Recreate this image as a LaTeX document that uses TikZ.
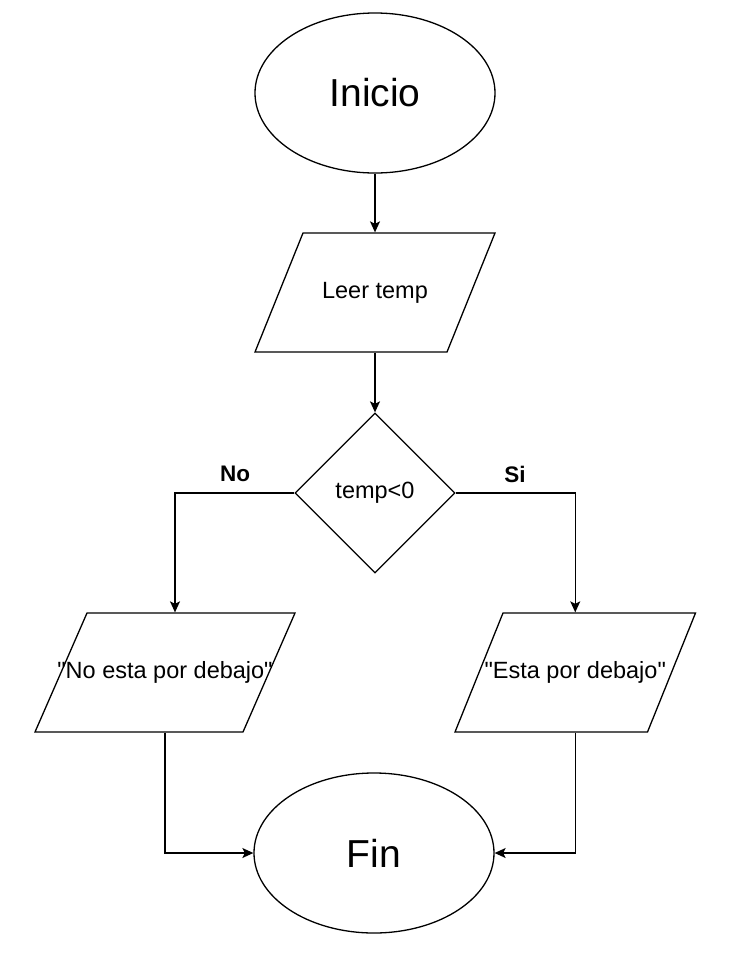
\documentclass[tikz,border=0pt]{standalone}
\usepackage{fontspec}
\setmainfont{Liberation Sans}[Ligatures=TeXOff]
\usetikzlibrary{shapes.geometric,arrows.meta}
\begin{document}
\begin{tikzpicture}[x=1pt,y=-1pt,
  line width=1.3pt,
  term/.style={ellipse,draw,minimum width=240pt,minimum height=160pt,inner sep=0pt,font=\fontsize{39}{45}\selectfont},
  pbox/.style={rectangle,minimum height=119pt,minimum width=10pt,inner sep=0pt,font=\fontsize{23.5}{28}\selectfont},
  dec/.style={diamond,draw,minimum width=160pt,minimum height=160pt,inner sep=0pt,font=\fontsize{23.5}{28}\selectfont},
  lab/.style={font=\bfseries\fontsize{22.5}{26}\selectfont},
  conn/.style={-{Stealth[length=11pt,width=10pt,inset=2.5pt]}}
]
\useasboundingbox (0,0) rectangle (738,954);

\node[term] (inicio) at (375,93) {Inicio};
\node[pbox] (leer) at (375,292.5) {Leer temp};
\node[dec] (cond) at (375,493) {temp<0};
\node[pbox] (nobox) at (165,672.5) {"No esta por debajo"};
\node[pbox] (sibox) at (575.25,672.5) {"Esta por debajo"};
\node[term] (fin) at (374,853) {Fin};

% parallelogram outlines (half width w, half slant s, half height 59.5)
\draw ([shift={(-72,-59.5)}]leer.center) -- ([shift={(120,-59.5)}]leer.center) -- ([shift={(72,59.5)}]leer.center) -- ([shift={(-120,59.5)}]leer.center) -- cycle;
\draw ([shift={(-78,-59.5)}]nobox.center) -- ([shift={(130,-59.5)}]nobox.center) -- ([shift={(78,59.5)}]nobox.center) -- ([shift={(-130,59.5)}]nobox.center) -- cycle;
\draw ([shift={(-72.25,-59.5)}]sibox.center) -- ([shift={(120.25,-59.5)}]sibox.center) -- ([shift={(72.25,59.5)}]sibox.center) -- ([shift={(-120.25,59.5)}]sibox.center) -- cycle;

% connectors
\draw[conn] (inicio.south) -- (leer.north);
\draw[conn] (leer.south) -- (cond.north);
\draw[conn] (cond.west) -| ([xshift=10pt]nobox.north);
\draw[conn] (cond.east) -| (sibox.north);
\draw[conn] (nobox.south) |- (fin.west);
\draw[conn] (sibox.south) |- (fin.east);

\node[lab] (nolab) at (235,474) {No};
\node[lab] (silab) at (515,474) {Si};
\end{tikzpicture}
\end{document}
